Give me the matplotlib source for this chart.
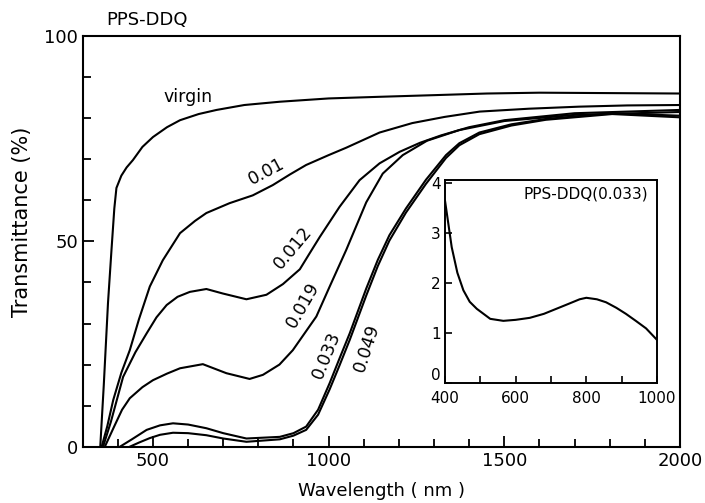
import matplotlib
matplotlib.use("Agg")
import matplotlib.pyplot as plt
from matplotlib.ticker import MultipleLocator

# main panel: transmittance (%) vs wavelength (nm)
virgin_x = [350, 360, 372, 382, 390, 396, 410, 425, 443, 470, 500, 540, 577, 630, 681, 760, 861, 1000, 1145, 1300, 1450, 1600, 1800, 2000]
virgin_y = [0, 15, 35, 48, 58, 63, 66, 68, 69.8, 73, 75.4, 77.8, 79.5, 81, 82, 83.2, 84, 84.8, 85.2, 85.6, 86, 86.2, 86.1, 86.0]

d010_x = [354, 370, 387, 410, 434, 460, 491, 528, 577, 620, 652, 718, 784, 841, 890, 936, 1000, 1050, 1145, 1238, 1330, 1430, 1570, 1713, 1850, 2000]
d010_y = [0, 5, 11.4, 18, 23.5, 31, 39, 45.4, 52, 55, 56.9, 59.3, 61.2, 63.7, 66.3, 68.6, 71.0, 72.8, 76.5, 78.8, 80.3, 81.6, 82.3, 82.8, 83.1, 83.2]

d012_x = [358, 380, 415, 450, 482, 510, 539, 570, 605, 652, 699, 766, 823, 870, 918, 946, 975, 1031, 1088, 1145, 1202, 1260, 1320, 1400, 1500, 1700, 2000]
d012_y = [0, 6, 17, 23, 27.6, 31.5, 34.5, 36.5, 37.7, 38.4, 37.3, 35.9, 37, 39.6, 43.2, 47.1, 51.1, 58.4, 64.9, 69, 71.8, 74, 75.8, 77.8, 79.5, 81.2, 82.0]

d019_x = [363, 390, 412, 434, 470, 500, 540, 577, 642, 709, 775, 813, 860, 898, 965, 1003, 1050, 1107, 1154, 1211, 1280, 1372, 1500, 1700, 2000]
d019_y = [0, 5, 9, 11.8, 14.5, 16.2, 17.8, 19.1, 20.1, 17.9, 16.5, 17.5, 20, 23.5, 31.7, 39, 47.9, 59.5, 66.5, 71.0, 74.5, 77.1, 79.3, 80.8, 81.5]

d033_x = [406, 440, 482, 520, 557, 600, 652, 700, 766, 861, 900, 936, 970, 1003, 1031, 1060, 1107, 1140, 1173, 1220, 1277, 1334, 1372, 1429, 1520, 1618, 1807, 2000]
d033_y = [0, 1.8, 4.1, 5.2, 5.7, 5.4, 4.5, 3.3, 2.0, 2.4, 3.3, 4.9, 9.0, 15.5, 21.5, 27.6, 38.5, 45.5, 51.5, 58, 65, 71, 73.9, 76.5, 78.5, 79.8, 81.2, 80.6]

d049_x = [434, 460, 491, 520, 557, 600, 652, 700, 766, 861, 900, 936, 970, 1003, 1031, 1060, 1107, 1140, 1173, 1220, 1277, 1334, 1372, 1429, 1520, 1618, 1807, 2000]
d049_y = [0, 1.0, 2.1, 2.9, 3.4, 3.3, 2.8, 2.0, 1.2, 1.8, 2.7, 4.1, 7.8, 14.0, 19.8, 26.0, 36.8, 44.0, 50.2, 57, 64, 70.3, 73.4, 76.1, 78.2, 79.6, 81.0, 80.2]

curve_labels = ["virgin", "0.01", "0.012", "0.019", "0.033", "0.049"]

# inset: PPS-DDQ(0.033)
inset_x = [400, 419, 435, 452, 470, 490, 528, 565, 600, 640, 680, 715, 750, 781, 800, 830, 856, 885, 912, 940, 969, 1000]
inset_y = [3.64, 2.71, 2.2, 1.85, 1.62, 1.48, 1.28, 1.24, 1.26, 1.30, 1.38, 1.48, 1.58, 1.67, 1.70, 1.67, 1.61, 1.50, 1.38, 1.24, 1.09, 0.86]


def main():
    plt.rcParams['font.family'] = ['DejaVu Sans']
    fig = plt.figure(figsize=(7.05, 5.03), dpi=100)
    ax = fig.add_axes([0.1173, 0.1119, 0.8472, 0.8165])

    series = [(virgin_x, virgin_y), (d010_x, d010_y), (d012_x, d012_y),
              (d019_x, d019_y), (d033_x, d033_y), (d049_x, d049_y)]
    for x, y in series:
        ax.plot(x, y, color='black', lw=1.5, solid_joinstyle='round')

    # label positions along the curves (data coords) and text rotation
    label_pos = [(600, 85.2, 0), (824, 66.9, 28), (898, 48.4, 50),
                 (926, 34.5, 60), (994, 22.3, 68), (1108, 24.0, 72)]
    for lab, (lx, ly, rot) in zip(curve_labels, label_pos):
        ax.text(lx, ly, lab, fontsize=12.5, rotation=rot, ha='center', va='center')

    ax.set_xlim(300, 2000)
    ax.set_ylim(0, 100)
    ax.xaxis.set_major_locator(MultipleLocator(500))
    ax.xaxis.set_minor_locator(MultipleLocator(100))
    ax.yaxis.set_major_locator(MultipleLocator(50))
    ax.yaxis.set_minor_locator(MultipleLocator(10))
    ax.tick_params(which='both', direction='in', width=1.3, labelsize=13)
    ax.tick_params(which='major', length=8)
    ax.tick_params(which='minor', length=6)
    for s in ax.spines.values():
        s.set_linewidth(1.5)
    ax.set_xlabel('Wavelength ( nm )', fontsize=13, labelpad=9)
    fig.text(0.031, 0.56, 'Transmittance (%)', fontsize=15, rotation=90,
             ha='center', va='center')
    fig.text(0.209, 0.96, 'PPS-DDQ', fontsize=13, ha='center', va='center')

    # inset
    ins = fig.add_axes([0.6312, 0.2386, 0.3007, 0.4035])
    ins.plot(inset_x, inset_y, color='black', lw=1.5)
    ins.set_xlim(400, 1000)
    ins.set_ylim(0, 4.05)
    ins.xaxis.set_major_locator(MultipleLocator(200))
    ins.xaxis.set_minor_locator(MultipleLocator(100))
    ins.yaxis.set_major_locator(MultipleLocator(1))
    ins.tick_params(which='both', direction='in', width=1.2, labelsize=11)
    ins.tick_params(axis='x', pad=6)
    ins.tick_params(axis='y', pad=3)
    ins.tick_params(which='major', length=5)
    ins.tick_params(which='minor', length=5)
    for s in ins.spines.values():
        s.set_linewidth(1.4)
    ins.text(0.96, 0.93, 'PPS-DDQ(0.033)', transform=ins.transAxes, fontsize=11,
             ha='right', va='center')

    # keep the inset's "0" clear of the "400" below it
    fig.canvas.draw()
    ins.yaxis.get_major_ticks()[0].label1.set_va('bottom')
    ins.yaxis.get_major_ticks()[1].label1.set_va('bottom')

    fig.savefig('out.png', dpi=100)


if __name__ == "__main__":
    main()
